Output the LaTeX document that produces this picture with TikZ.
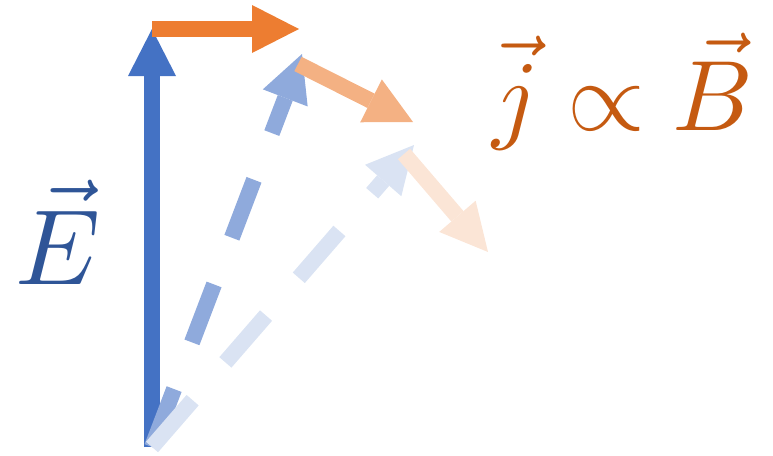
\documentclass[tikz,border=0pt]{standalone}
\usepackage{amsmath}
\usepackage{xcolor}
\usetikzlibrary{arrows.meta}

\definecolor{eblue}{HTML}{4472C4}
\definecolor{eblueB}{HTML}{8FAADC}
\definecolor{eblueC}{HTML}{DAE3F3}
\definecolor{jorange}{HTML}{ED7D31}
\definecolor{jorangeB}{HTML}{F4B183}
\definecolor{jorangeC}{HTML}{FBE5D6}
\definecolor{elabel}{HTML}{2F5597}
\definecolor{jlabel}{HTML}{C55A11}

\begin{document}
\begin{tikzpicture}[
  x=1pt, y=-1pt,
  >={Triangle[length=47pt, width=48pt, line width=0pt]},
  vect/.style={->, line width=16pt},
  later/.style={vect, dash pattern=on 62pt off 50pt},
  biglabel/.style={inner sep=0pt, anchor=base},
]
  \useasboundingbox (0,0) rectangle (773,455);

  % tips of the vectors
  \coordinate (O) at (152,447);
  \coordinate (E1) at (152,29);
  \coordinate (J1) at (299,29);
  \coordinate (E2) at (302,54);
  \coordinate (J2s) at (298,64);
  \coordinate (J2) at (413,122);
  \coordinate (E3) at (414,145);
  \coordinate (J3s) at (404,154);
  \coordinate (J3) at (488,252);

  \draw[vect, eblue] (O) -- (E1);
  \draw[vect, jorange] (E1) -- (J1);
  \draw[later, eblueB] (O) -- (E2);
  \draw[vect, jorangeB] (J2s) -- (J2);
  \draw[later, eblueC] (O) -- (E3);
  \draw[vect, jorangeC] (J3s) -- (J3);

  \node[biglabel, text=elabel, scale=10.7] (Elab) at (58,284) {$\vec{E}$};
  \node[biglabel, text=jlabel, scale=10] (jlab) at (623,130) {$\vec{j} \propto \vec{B}$};
\end{tikzpicture}
\end{document}
